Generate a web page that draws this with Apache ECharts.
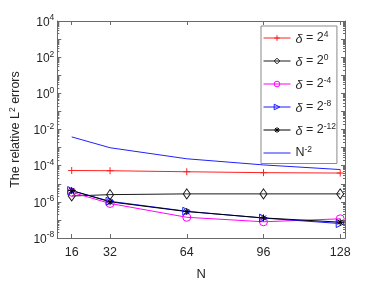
<!DOCTYPE html>
<html><head><meta charset="utf-8">
<script src="https://cdn.jsdelivr.net/npm/echarts@6/dist/echarts.min.js"></script>
<style>html,body{margin:0;padding:0;background:#fff}#c{width:382px;height:286px}</style>
</head><body><div id="c"></div>
<script>
var N = [16, 32, 64, 96, 128];
var xTicks = [16, 32, 64, 96, 128];
var yExps = [4, 2, 0, -2, -4, -6, -8];
var errD4 = [5.4e-5, 5.25e-5, 4.6e-5, 4.1e-5, 3.9e-5];
var errD0 = [2.1e-6, 2.5e-6, 2.75e-6, 2.75e-6, 2.75e-6];
var errDm4 = [3.4e-6, 8.1e-7, 1.4e-7, 7.9e-8, 1.15e-7];
var errDm8 = [4.2e-6, 1.07e-6, 3.0e-7, 1.26e-7, 6.3e-8];
var errDm12 = [4.2e-6, 1.0e-6, 2.9e-7, 1.29e-7, 7.5e-8];
var refNm2 = [3.9e-3, 9.8e-4, 2.4e-4, 1.1e-4, 6.1e-5];
var legendNames = ['d4', 'd0', 'dm4', 'dm8', 'dm12', 'nm2'];
var legendLabels = {
  d4: '{d|δ} = 2{s|4}', d0: '{d|δ} = 2{s|0}', dm4: '{d|δ} = 2{s|-4}',
  dm8: '{d|δ} = 2{s|-8}', dm12: '{d|δ} = 2{s|-12}', nm2: 'N{s|-2}'
};
var colors = { d4: '#ff2020', d0: '#1a1a1a', dm4: '#ff00ff', dm8: '#1a1aff', dm12: '#000000', nm2: '#2020ff' };

var FONT = 'Liberation Sans, Arial, Helvetica, sans-serif';
var majorY = [], minorY = [];
for (var e = -8; e <= 4; e++) {
  majorY.push(Math.pow(10, e));
  if (e < 4) for (var m = 2; m <= 9; m++) minorY.push(m * Math.pow(10, e));
}
function zip(arr) { return N.map(function (n, i) { return [n, arr[i]]; }); }

var PLUS = 'path://M5,0L5,10M0,5L10,5';
var STAR = 'path://M5,0L5,10M0,5L10,5M1.5,1.5L8.5,8.5M1.5,8.5L8.5,1.5';
var axisCol = '#6a6a6a';
var sup = {
  b: { fontSize: 12, fontFamily: FONT, color: '#262626', padding: [3, 0, 0, 0] },
  s: { fontSize: 8.5, fontFamily: FONT, color: '#262626', padding: [0, 0, 6, 0] }
};

function yAx(pos, ticks, len, showLine, showLabel) {
  return {
    type: 'log', logBase: 10, min: 1e-8, max: 1e4, position: pos,
    axisLine: { show: showLine, lineStyle: { color: axisCol, width: 1 } },
    axisTick: { show: true, inside: true, length: len, customValues: ticks, lineStyle: { color: axisCol } },
    axisLabel: showLabel ? {
      show: true, margin: 3, customValues: yExps.map(function (x) { return Math.pow(10, x); }),
      formatter: function (v) { var ex = Math.round(Math.log10(v)); return '{b|10}{s|' + ex + '}'; },
      rich: sup
    } : { show: false },
    splitLine: { show: false },
    name: showLabel ? 'The relative L{s|2} errors' : '',
    nameLocation: 'middle', nameGap: 33, nameRotate: 90,
    nameTextStyle: { fontSize: 12.5, fontFamily: FONT, color: '#262626',
      rich: { s: { fontSize: 8.5, fontFamily: FONT, color: '#262626', padding: [0, 0, 7, 0] } } }
  };
}
function xAx(pos, showLabel) {
  return {
    type: 'value', min: 10, max: 130, position: pos,
    axisLine: { show: true, onZero: false, lineStyle: { color: axisCol, width: 1 } },
    axisTick: { show: true, inside: true, length: 4, customValues: xTicks, lineStyle: { color: axisCol } },
    axisLabel: showLabel ? { show: true, customValues: xTicks, margin: 8, fontSize: 12.5, fontFamily: FONT, color: '#262626' } : { show: false },
    splitLine: { show: false },
    name: showLabel ? 'N' : '', nameLocation: 'middle', nameGap: 30,
    nameTextStyle: { fontSize: 13, fontFamily: FONT, color: '#262626' }
  };
}

function ser(key, data, symbol, size, extra) {
  var color = colors[key];
  var s = {
    name: key, type: 'line', data: zip(data), xAxisIndex: 0, yAxisIndex: 0,
    symbol: symbol, symbolSize: size, showSymbol: symbol !== 'none',
    lineStyle: { color: color, width: 1 },
    itemStyle: { color: 'rgba(255,255,255,0)', borderColor: color, borderWidth: 1 },
    emphasis: { disabled: true }, animation: false
  };
  if (extra) for (var k in extra) s[k] = extra[k];
  return s;
}

var legendData = legendNames.map(function (n) {
  var c = colors[n];
  return {
    name: n,
    itemStyle: n === 'nm2' ? { opacity: 0 } : { color: 'rgba(255,255,255,0)', borderColor: c, borderWidth: 1 },
    lineStyle: { color: c, width: 1 }
  };
});

var chart = echarts.init(document.getElementById('c'), null, { renderer: 'canvas' });
chart.setOption({
  animation: false,
  grid: { left: 53, right: 37, top: 21, bottom: 40, containLabel: false },
  xAxis: [xAx('bottom', true), xAx('top', false)],
  yAxis: [
    yAx('left', majorY, 4, true, true), yAx('left', minorY, 2, false, false),
    yAx('right', majorY, 4, true, false), yAx('right', minorY, 2, false, false)
  ],
  legend: {
    data: legendData, orient: 'vertical', left: 261, top: 26,
    padding: [4, 1, 4, 2], itemGap: 7, itemWidth: 27, itemHeight: 7,
    backgroundColor: '#fff', borderColor: '#8a8a8a', borderWidth: 1, borderRadius: 0,
    selectedMode: false,
    formatter: function (n) { return legendLabels[n]; },
    textStyle: { fontSize: 12.5, fontFamily: FONT, color: '#262626',
      rich: {
        d: { fontSize: 12.5, fontFamily: FONT, fontStyle: 'italic', color: '#262626', padding: [3, 0, 0, 0] },
        s: { fontSize: 8.5, fontFamily: FONT, color: '#262626', padding: [0, 0, 7, 0] }
      } }
  },
  series: [
    ser('d4', errD4, PLUS, 7),
    ser('d0', errD0, 'diamond', [7, 10]),
    ser('dm4', errDm4, 'circle', 8),
    ser('dm8', errDm8, 'triangle', 8, { symbolRotate: -90 }),
    ser('dm12', errDm12, STAR, 7),
    ser('nm2', refNm2, 'none', 0)
  ]
});
</script></body></html>
